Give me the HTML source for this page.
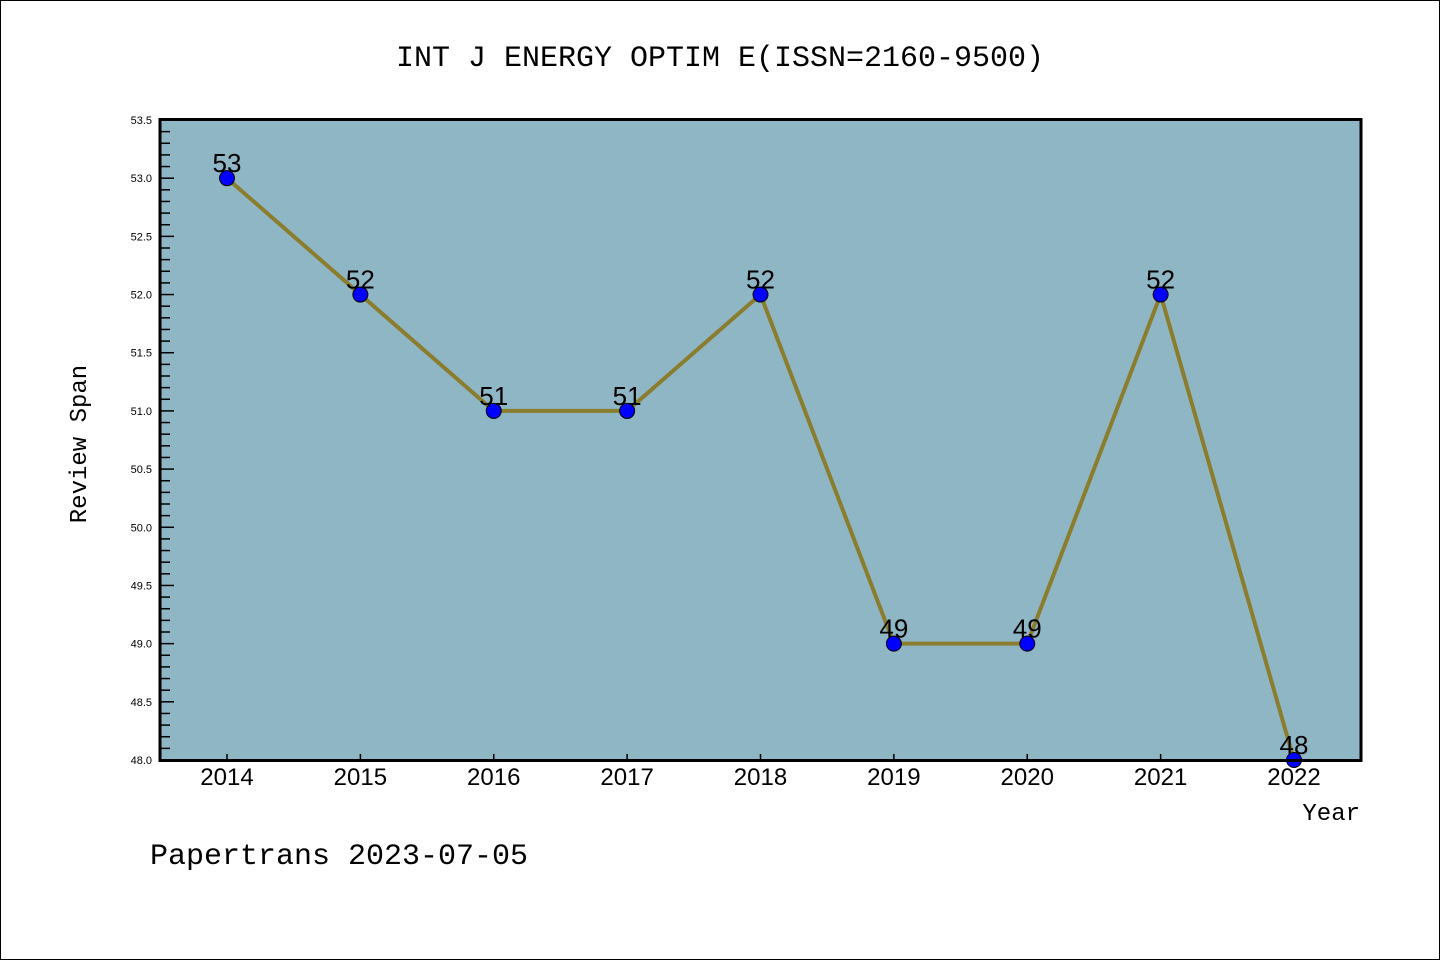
<!DOCTYPE html>
<html><head><meta charset="utf-8"><style>
html,body{margin:0;padding:0;background:#fff}
svg text{font-family:"Liberation Sans","WenQuanYi Zen Hei",sans-serif}
.mono{font-family:"WenQuanYi Zen Hei","Liberation Mono",monospace}
</style></head><body>
<svg id="chart" width="1440" height="960" xmlns="http://www.w3.org/2000/svg">
<rect x="0.5" y="0.5" width="1439" height="959" fill="#fff" stroke="#000"/>
<text x="720" y="66" text-anchor="middle" font-size="30" class="mono">INT J ENERGY OPTIM E(ISSN=2160-9500)</text>
<rect x="160" y="119.5" width="1201" height="641" fill="#8fb6c4"/>
<g id="axes"></g>
<g id="marks"></g>
<rect x="160" y="119.5" width="1201" height="641" fill="none" stroke="#000" stroke-width="3"/>
<text x="86" y="444" text-anchor="middle" font-size="24" class="mono" transform="rotate(-90 86 444)">Review Span</text>
<text x="1360" y="820" text-anchor="end" font-size="24" class="mono">Year</text>
<text x="150" y="864" font-size="30" class="mono">Papertrans 2023-07-05</text>
</svg>
<script>
const years = [2014,2015,2016,2017,2018,2019,2020,2021,2022];
const spans = [53,52,51,51,52,49,49,52,48];
const yTicks = ["48.0","48.5","49.0","49.5","50.0","50.5","51.0","51.5","52.0","52.5","53.0","53.5"];
const NS="http://www.w3.org/2000/svg";
const yMin=48, yMax=53.5, pTop=120, pBot=760;
function yS(v){return pBot-(v-yMin)/(yMax-yMin)*(pBot-pTop);}
function xS(i){return 227+i*(1294-227)/(years.length-1);}
function mk(t,a,p){const e=document.createElementNS(NS,t);for(const k in a)e.setAttribute(k,a[k]);p.appendChild(e);return e;}
const axes=document.getElementById('axes'), marks=document.getElementById('marks');
for(let v=48; v<=53.5001; v+=0.1){
  const major=Math.abs(v*2-Math.round(v*2))<1e-6;
  const l=mk('line',{x1:160,x2:160+(major?14:10),y1:yS(v),y2:yS(v),stroke:'#000','stroke-width':1.5},axes);
  
  
}
yTicks.forEach(s=>{
  const t=mk('text',{x:152,y:yS(parseFloat(s))+4,'text-anchor':'end','font-size':11},axes);
  t.textContent=s;
  
  
});
years.forEach((y,i)=>{
  const l=mk('line',{x1:xS(i),x2:xS(i),y1:pBot,y2:pBot-6,stroke:'#000','stroke-width':1.5},axes);
  
  
  const t=mk('text',{x:xS(i),y:785,'text-anchor':'middle','font-size':24},axes);
  t.textContent=y;
  
  
});
const pl=mk('polyline',{points:spans.map((v,i)=>xS(i)+','+yS(v)).join(' '),fill:'none',stroke:'#8b7d2e','stroke-width':4},marks);


spans.forEach((v,i)=>{
  const c=mk('circle',{cx:xS(i),cy:yS(v),r:7.5,fill:'#0000ff',stroke:'#000','stroke-width':1},marks);
  
  
  const t=mk('text',{x:xS(i),y:yS(v)-6,'text-anchor':'middle','font-size':26},marks);
  t.textContent=v;
  
  
});
</script>
</body></html>
